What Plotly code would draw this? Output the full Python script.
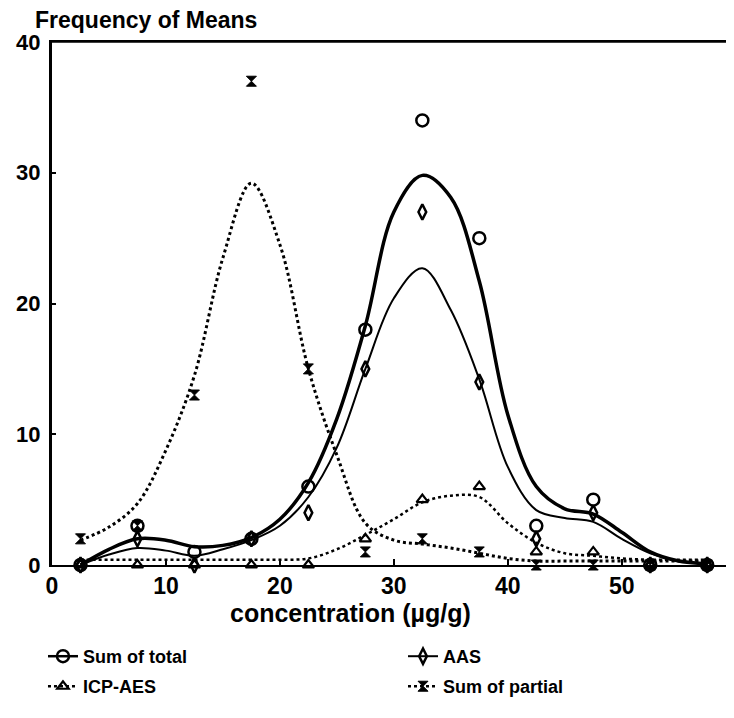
import plotly.graph_objects as go

# ---- data ----
BIN_X = [2.5, 7.5, 12.5, 17.5, 22.5, 27.5, 32.5, 37.5, 42.5, 47.5, 52.5, 57.5]
SUM_TOTAL = [0, 3, 1, 2, 6, 18, 34, 25, 3, 5, 0, 0]
AAS = [0, 2, 0, 2, 4, 15, 27, 14, 2, 4, 0, 0]
ICP_AES = [0, 0, 0, 0, 0, 2, 5, 6, 1, 1, 0, 0]
SUM_PARTIAL = [2, 3, 13, 37, 15, 1, 2, 1, 0, 0, 0, 0]

# fitted (smoothed) curves
FIT_X = [2.5, 5, 7.5, 10, 12.5, 15, 17.5, 20, 22.5, 25, 27.5, 30, 32.5, 35,
         37.5, 40, 42.5, 45, 47.5, 50, 52.5, 55, 57.5]
TOTAL_FIT = [0, 1.2, 2.0, 1.9, 1.4, 1.5, 2.1, 3.5, 6.3, 11.2, 18.3, 27.0, 29.8,
             28.1, 21.7, 11.5, 6.0, 4.3, 3.9, 2.5, 1.0, 0.3, 0.1]
AAS_FIT = [0, 0.8, 1.3, 1.1, 0.7, 1.2, 1.9, 3.0, 5.2, 9.0, 15.0, 20.4, 22.7,
           19.5, 14.2, 7.5, 4.2, 3.6, 3.3, 2.0, 0.9, 0.3, 0.1]
ICP_FIT = [0.4, 0.4, 0.4, 0.4, 0.4, 0.4, 0.4, 0.4, 0.5, 1.2, 2.3, 3.5, 4.8,
           5.3, 5.2, 3.2, 1.7, 0.9, 0.7, 0.5, 0.4, 0.4, 0.4]
PARTIAL_FIT = [1.9, 2.9, 4.7, 8.8, 14.5, 23.5, 29.2, 24.5, 15.0, 8.4, 3.2, 1.9,
               1.6, 1.3, 0.9, 0.5, 0.3, 0.3, 0.3, 0.3, 0.3, 0.3, 0.3]

X_TICKS = [0, 10, 20, 30, 40, 50]
Y_TICKS = [0, 10, 20, 30, 40]

BLACK = "black"
FONT = "Liberation Sans, Arial, sans-serif"
NARROW = "Liberation Sans Narrow, Liberation Sans, Arial, sans-serif"

fig = go.Figure()

series = [
    ("Sum of total", SUM_TOTAL, TOTAL_FIT, "solid", 3.5,
     dict(symbol="circle-open", size=12, color=BLACK, line=dict(width=2.5, color=BLACK)), "legend"),
    ("AAS", AAS, AAS_FIT, "solid", 2,
     dict(symbol="diamond-tall-open", size=11, color=BLACK, line=dict(width=2.5, color=BLACK)), "legend2"),
    ("ICP-AES", ICP_AES, ICP_FIT, "dot", 2.5,
     dict(symbol="triangle-up-open", size=10, color=BLACK, line=dict(width=2.2, color=BLACK)), "legend3"),
    ("Sum of partial", SUM_PARTIAL, PARTIAL_FIT, "dot", 3,
     dict(symbol="hourglass", size=10, color=BLACK, line=dict(width=1, color=BLACK)), "legend4"),
]

for name, pts, fit, dash, lw, marker, lg in series:
    # smoothed curve
    fig.add_trace(go.Scatter(
        x=FIT_X, y=fit, mode="lines", showlegend=False,
        line=dict(color=BLACK, width=lw, dash=dash, shape="spline", smoothing=1.0),
        hoverinfo="skip", cliponaxis=False,
    ))
    # data points
    fig.add_trace(go.Scatter(
        x=BIN_X, y=pts, mode="markers", showlegend=False,
        marker=marker, cliponaxis=False,
    ))
    # legend entry
    fig.add_trace(go.Scatter(
        x=[None], y=[None], mode="lines+markers", name=f"<b>{name}</b>", legend=lg,
        line=dict(color=BLACK, width=min(lw, 2.5), dash=dash),
        marker=marker,
    ))

LEG_FONT = dict(family=NARROW, size=18, color=BLACK)
COL1_X, COL2_X = -0.0133, 0.5177
ROW1_Y, ROW2_Y = -0.1396, -0.197


def leg(x, y):
    return dict(orientation="h", x=x, xanchor="left", y=y, yanchor="top",
                font=LEG_FONT, bgcolor="rgba(0,0,0,0)", itemwidth=30)


# the page body adds an 8 px offset, so the figure is 8 px smaller and margins shifted
fig.update_layout(
    width=726, height=710,
    margin=dict(l=44, r=4, t=34, b=153, autoexpand=False),
    paper_bgcolor="white", plot_bgcolor="white",
    font=dict(family=FONT, color=BLACK),
    title=dict(text="<b>Frequency of Means</b>", x=27 / 726, xanchor="left",
               y=1 - 12 / 710, yanchor="middle",
               font=dict(family=FONT, size=23, color=BLACK)),
    xaxis=dict(range=[0, 59.5], tickvals=X_TICKS,
               ticktext=[f"<b>{v}</b>" for v in X_TICKS],
               tickfont=dict(family=FONT, size=23, color=BLACK),
               showgrid=False, zeroline=False,
               showline=True, linecolor=BLACK, linewidth=1.5, mirror=True,
               ticks="inside", ticklen=6, tickwidth=1.5, tickcolor=BLACK),
    yaxis=dict(range=[0, 40], tickvals=Y_TICKS,
               ticktext=[f"<b>{v}</b>" for v in Y_TICKS],
               tickfont=dict(family=FONT, size=22, color=BLACK),
               showgrid=False, zeroline=False,
               showline=True, linecolor=BLACK, linewidth=3, mirror=False,
               ticks="inside", ticklen=4, tickwidth=1.5, tickcolor=BLACK,
               ticklabelstandoff=4),
    legend=leg(COL1_X, ROW1_Y),
    legend2=leg(COL2_X, ROW1_Y),
    legend3=leg(COL1_X, ROW2_Y),
    legend4=leg(COL2_X, ROW2_Y),
    annotations=[dict(text="<b>concentration (µg/g)</b>", xref="paper", yref="paper",
                      x=(350 - 52) / 678, y=(565 - 613) / 523, xanchor="center",
                      yanchor="middle", showarrow=False,
                      font=dict(family=FONT, size=25, color=BLACK))],
)

# top and right frame lines (thin)
fig.add_shape(type="line", xref="paper", yref="paper", x0=0, x1=1, y0=1, y1=1,
              line=dict(color=BLACK, width=1.5))
fig.add_shape(type="line", xref="paper", yref="paper", x0=1, x1=1, y0=0, y1=1,
              line=dict(color=BLACK, width=1.5))

fig.write_html("out.html")
